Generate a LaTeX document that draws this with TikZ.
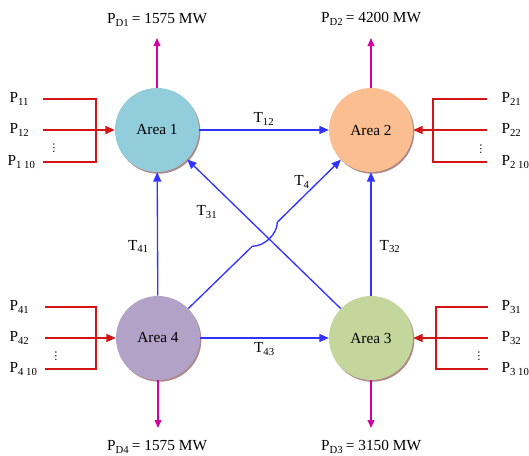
\documentclass[tikz,border=0pt]{standalone}
\usepackage{fontspec}
\setmainfont{Liberation Serif}
\newfontfamily\symbfont{DejaVu Sans}
\usetikzlibrary{arrows.meta,shadows,calc}

\definecolor{areaone}{RGB}{146,205,220}
\definecolor{areatwo}{RGB}{250,190,145}
\definecolor{areathree}{RGB}{195,214,155}
\definecolor{areafour}{RGB}{179,162,199}
\definecolor{tieblue}{RGB}{51,51,255}
\definecolor{genred}{RGB}{210,20,20}
\definecolor{loadpink}{RGB}{210,0,160}
\definecolor{rimshade}{RGB}{165,125,125}

\tikzset{
  area/.style={circle,minimum size=63pt,inner sep=0pt,font=\fontsize{11.5}{13}\selectfont,
    drop shadow={shadow xshift=1pt,shadow yshift=-1.3pt,fill=rimshade,opacity=0.9}},
  tie/.style={tieblue,line width=1pt,-{Triangle[length=7pt,width=6pt]}},
  gen/.style={genred,line width=1pt},
  genarrow/.style={gen,-{Triangle[length=7pt,width=6pt]}},
  load/.style={loadpink,line width=1pt,-{Triangle[length=6pt,width=5pt]}},
  lbl/.style={font=\fontsize{11.5}{13}\selectfont,inner sep=1pt,text=black},
  dots/.style={font=\symbfont\fontsize{8}{8}\selectfont,inner sep=0pt,text=black},
}

\begin{document}
\begin{tikzpicture}[x=0.75pt,y=-0.75pt]
    \useasboundingbox (0,0) rectangle (529,455);

    % control areas
    \node[area,fill=areaone] (a1) at (157,130) {Area 1};
    \node[area,fill=areatwo] (a2) at (371,130) {Area 2};
    \node[area,fill=areathree] (a3) at (371,338) {Area 3};
    \node[area,fill=areafour] (a4) at (158,338) {Area 4};

    % tie lines
    \draw[tie] (a1) -- (a2) node[midway,above=2pt,lbl] (t12) {T\textsubscript{12}};
    \draw[tie] (a4) -- (a3) node[midway,below=2pt,lbl] (t43) {T\textsubscript{43}};
    \draw[tie] (a4) -- (a1) node[pos=0.4,left=5pt,lbl] (t41) {T\textsubscript{41}};
    \draw[tie] (a3) -- (a2) node[pos=0.4,right=5pt,lbl] (t32) {T\textsubscript{32}};
    \draw[tie] (a3) -- (a1);
    \coordinate (x) at (intersection of a1--a3 and a2--a4);
    \coordinate (h1) at ($(x)+(-12,12)$);
    \coordinate (h2) at ($(x)+(13,-12)$);
    \draw[tie] (a4) -- (h1) .. controls +(12,0) and +(0,12) .. (h2) -- (a2);
    \node[lbl] (t31) at (207,212) {T\textsubscript{31}};
    \node[lbl] (t4) at (302,182) {T\textsubscript{4}};

    % demands
    \node[lbl] (pd1) at (157,20) {P\textsubscript{D1}\,= 1575 MW};
    \node[lbl] (pd2) at (371,19) {P\textsubscript{D2}\,= 4200 MW};
    \node[lbl] (pd3) at (371,447) {P\textsubscript{D3}\,= 3150 MW};
    \node[lbl] (pd4) at (157,447) {P\textsubscript{D4}\,= 1575 MW};
    \coordinate (d1) at (157,38);
    \coordinate (d2) at (371,38);
    \coordinate (d3) at (371,428);
    \coordinate (d4) at (158,428);
    \draw[load] (a1) -- (d1);
    \draw[load] (a2) -- (d2);
    \draw[load] (a3) -- (d3);
    \draw[load] (a4) -- (d4);

    % generation, area 1
    \node[lbl,anchor=west] (p11) at (8,99) {P\textsubscript{11}};
    \node[lbl,anchor=west] (p12) at (8,130) {P\textsubscript{12}};
    \node[lbl,anchor=west] (p110) at (6,162) {P\textsubscript{1 10}};
    \node[dots] (v1) at (54,148) {⋮};
    \coordinate (j1) at (96,130);
    \draw[gen] (43,99) -| (j1) |- (43,162);
    \draw[gen] (43,130) -- (j1);
    \draw[genarrow] (j1) -- (a1);

    % generation, area 2
    \node[lbl,anchor=west] (p21) at (500,99) {P\textsubscript{21}};
    \node[lbl,anchor=west] (p22) at (500,130) {P\textsubscript{22}};
    \node[lbl,anchor=west] (p210) at (500,162) {P\textsubscript{2 10}};
    \node[dots] (v2) at (481,149) {⋮};
    \coordinate (j2) at (433,130);
    \draw[gen] (487,99) -| (j2) |- (487,162);
    \draw[gen] (487,130) -- (j2);
    \draw[genarrow] (j2) -- (a2);

    % generation, area 3
    \node[lbl,anchor=west] (p31) at (500,307) {P\textsubscript{31}};
    \node[lbl,anchor=west] (p32) at (500,338) {P\textsubscript{32}};
    \node[lbl,anchor=west] (p310) at (500,369) {P\textsubscript{3 10}};
    \node[dots] (v3) at (479,356) {⋮};
    \coordinate (j3) at (436,338);
    \draw[gen] (488,307) -| (j3) |- (488,369);
    \draw[gen] (488,338) -- (j3);
    \draw[genarrow] (j3) -- (a3);

    % generation, area 4
    \node[lbl,anchor=west] (p41) at (8,307) {P\textsubscript{41}};
    \node[lbl,anchor=west] (p42) at (8,338) {P\textsubscript{42}};
    \node[lbl,anchor=west] (p410) at (8,369) {P\textsubscript{4 10}};
    \node[dots] (v4) at (56,356) {⋮};
    \coordinate (j4) at (96,338);
    \draw[gen] (45,307) -| (j4) |- (45,369);
    \draw[gen] (45,338) -- (j4);
    \draw[genarrow] (j4) -- (a4);
\end{tikzpicture}
\end{document}
